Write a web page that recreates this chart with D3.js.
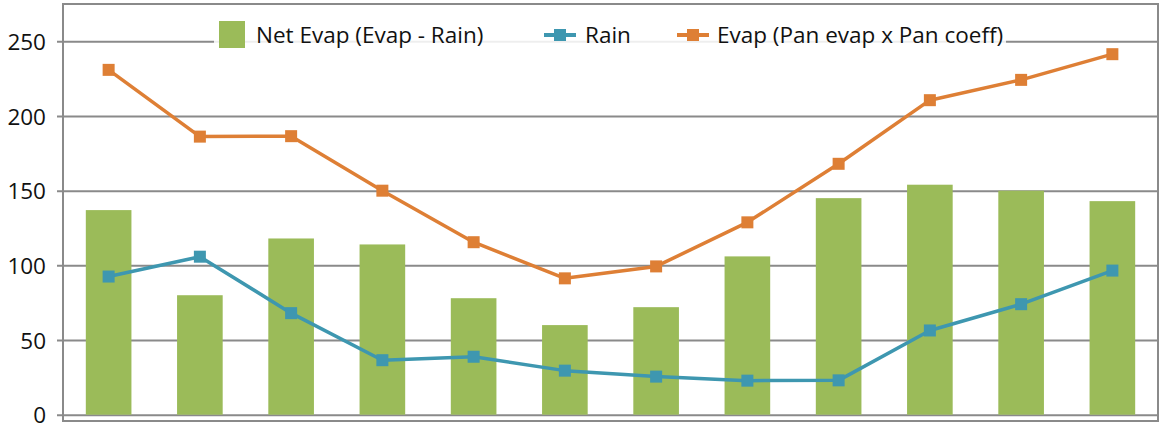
<!DOCTYPE html>
<html><head><meta charset="utf-8">
<script src="https://cdn.jsdelivr.net/npm/d3@7"></script>
<style>body{margin:0;background:#fff}svg{display:block}</style>
</head><body>
<svg id="c" width="1161" height="428"></svg>
<script>
const months = ["Jan","Feb","Mar","Apr","May","Jun","Jul","Aug","Sep","Oct","Nov","Dec"];
const netEvap = [137, 80, 118, 114, 78, 60, 72, 106, 145, 154, 150, 143];
const rain = [92.5, 105.8, 68, 36.5, 38.8, 29.5, 25.5, 22.8, 23, 56.4, 74, 96.5];
const evap = [230.9, 186.2, 186.5, 150, 115.5, 91.3, 99.3, 128.8, 168, 210.6, 224.2, 241.4];
const yTicks = [0, 50, 100, 150, 200, 250];
const seriesNames = ["Net Evap (Evap - Rain)", "Rain", "Evap (Pan evap x Pan coeff)"];

const C = {green:"#9bbb59", blue:"#3e97b0", orange:"#de7f35", grid:"#8a8a8a"};
const svg = d3.select("#c");
const L = 63, R = 1158, T = 4, B0 = 414.7, Bf = 421;
const font = "'Open Sans', 'Noto Sans', sans-serif";

const x = d3.scaleBand().domain(months).range([L, R]).paddingInner(0.5).paddingOuter(0.25);
const y = d3.scaleLinear().domain([0, 275]).range([B0, T]);

// gridlines + ticks
const yAxis = d3.axisLeft(y).tickValues(yTicks).tickSize(0).tickFormat(d3.format("d"));
const ga = svg.append("g").attr("transform", `translate(${L},0)`).call(yAxis);
ga.select(".domain").remove();
ga.selectAll(".tick line").attr("x1", -6).attr("x2", R - L).attr("stroke", C.grid).attr("stroke-width", 2);
ga.selectAll(".tick text").attr("font-family", font).attr("font-size", 22.5).attr("fill", "#111")
  .attr("x", -17).attr("dy", "0.36em");

// frame
svg.append("rect").attr("x", L).attr("y", T).attr("width", R - L).attr("height", Bf - T)
  .attr("fill", "none").attr("stroke", C.grid).attr("stroke-width", 2);

// bars
svg.append("g").selectAll("rect").data(netEvap).join("rect")
  .attr("x", (d, i) => x(months[i])).attr("width", x.bandwidth())
  .attr("y", d => y(d)).attr("height", d => y(0) - y(d)).attr("fill", C.green);

// lines
function drawLine(data, color) {
  const cx = (d, i) => x(months[i]) + x.bandwidth() / 2;
  const line = d3.line().x(cx).y(d => y(d));
  svg.append("path").datum(data).attr("d", line).attr("fill", "none")
    .attr("stroke", color).attr("stroke-width", 3.5).attr("stroke-linejoin", "round");
  svg.append("g").selectAll("rect").data(data).join("rect")
    .attr("x", (d, i) => cx(d, i) - 6).attr("y", d => y(d) - 6)
    .attr("width", 12).attr("height", 12).attr("fill", color);
}
drawLine(rain, C.blue);
drawLine(evap, C.orange);

// legend
const lg = svg.append("g");
lg.append("rect").attr("x", 214).attr("y", 18).attr("width", 792).attr("height", 36).attr("fill", "#fff").attr("opacity", 0.86);
const ly = 35;
lg.append("rect").attr("x", 219).attr("y", 21).attr("width", 26).attr("height", 27).attr("fill", C.green);
lg.append("text").attr("x", 256).attr("y", ly).attr("dy", "0.36em").text(seriesNames[0]);
[[544, C.blue, 585, seriesNames[1]], [677, C.orange, 717, seriesNames[2]]].forEach(([lx, col, tx, name]) => {
  lg.append("line").attr("x1", lx).attr("x2", lx + 32).attr("y1", ly).attr("y2", ly).attr("stroke", col).attr("stroke-width", 4);
  lg.append("rect").attr("x", lx + 10).attr("y", ly - 6).attr("width", 12).attr("height", 12).attr("fill", col);
  lg.append("text").attr("x", tx).attr("y", ly).attr("dy", "0.36em").text(name);
});
lg.selectAll("text").attr("font-family", font).attr("font-size", 22.5).attr("fill", "#111");
</script>
</body></html>
